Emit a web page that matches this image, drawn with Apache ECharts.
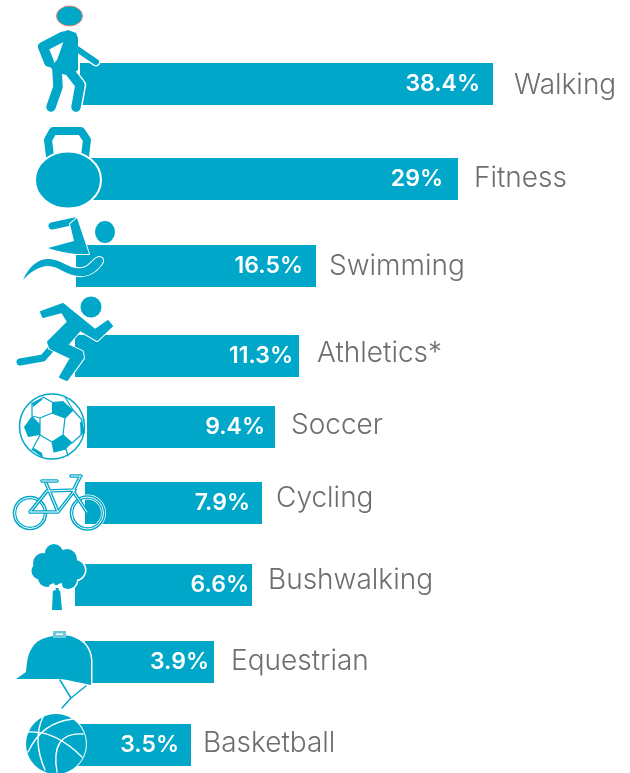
<!DOCTYPE html>
<html>
<head>
<meta charset="utf-8">
<style>html,body{margin:0;padding:0;background:#fff}#main{width:630px;height:773px}</style>
<script src="https://cdn.jsdelivr.net/npm/echarts@6/dist/echarts.min.js"></script>
</head>
<body>
<div id="main"></div>
<script>
// data
var categories = ['Walking', 'Fitness', 'Swimming', 'Athletics*', 'Soccer', 'Cycling', 'Bushwalking', 'Equestrian', 'Basketball'];
var percentages = [38.4, 29, 16.5, 11.3, 9.4, 7.9, 6.6, 3.9, 3.5];

// layout of each row: the bars of the original are not to a common scale
var barLefts  = [80, 90, 76, 75, 87, 85, 75, 85, 75];
var barRights = [493, 458, 316, 299, 275, 262, 252, 214, 191];
var barTops   = [63, 158, 245, 335, 406, 482, 564, 641, 724];
var labelGaps = [21, 16, 13, 18, 16, 14, 16, 17, 12];
var labelLifts = [-2, 0, -1, 2, 1, 4, 4, 0, 1];
var valueInsets = [13, 15, 13, 6, 10, 12, 3, 5, 12];

var BLUE = '#00a7c9';
var GREY = '#6d6e71';
var FONT = 'Inter, sans-serif';

var grids = [], xAxes = [], yAxes = [], series = [];
categories.forEach(function (name, i) {
  var lift = labelLifts[i];
  grids.push({ left: barLefts[i], top: barTops[i], width: barRights[i] - barLefts[i], height: 42 });
  xAxes.push({ type: 'value', gridIndex: i, min: 0, max: percentages[i], show: false });
  yAxes.push({
    type: 'category', gridIndex: i, position: 'right', data: [name],
    axisLine: { show: false }, axisTick: { show: false }, splitLine: { show: false },
    axisLabel: {
      margin: labelGaps[i],
      formatter: '{n|{value}}',
      rich: {
        n: {
          fontFamily: FONT, fontWeight: 300, fontSize: 28, color: GREY,
          padding: [Math.max(0, -lift) * 2, 0, Math.max(0, lift) * 2, 0]
        }
      }
    }
  });
  series.push({
    type: 'bar', xAxisIndex: i, yAxisIndex: i, barWidth: '100%', data: [percentages[i]],
    itemStyle: { color: BLUE }, silent: true,
    label: {
      show: true, position: 'insideRight', distance: valueInsets[i],
      formatter: '{c}%', color: '#fff', fontFamily: FONT, fontWeight: 600, fontSize: 23
    }
  });
});

// icons, each one is a white halo with the teal shape on top
var icons = [];
function el(type, shape, style) {
  icons.push({ type: type, shape: shape, style: style });
}
function ell(cx, cy, rx, ry, style) {
  var d = 'M' + (cx - rx) + ' ' + cy + 'A' + rx + ' ' + ry + ' 0 1 1 ' + (cx + rx) + ' ' + cy +
    'A' + rx + ' ' + ry + ' 0 1 1 ' + (cx - rx) + ' ' + cy + 'Z';
  el('path', { pathData: d }, style);
}
function blob(d, halo) {
  el('path', { pathData: d }, { fill: '#fff', stroke: '#fff', lineWidth: halo || 3, lineJoin: 'round' });
  el('path', { pathData: d }, { fill: BLUE });
}
function limb(d, w) {
  el('path', { pathData: d }, { fill: 'none', stroke: '#fff', lineWidth: w + 3, lineCap: 'round', lineJoin: 'round' });
}
function limbTop(d, w, c) {
  el('path', { pathData: d }, { fill: 'none', stroke: c || BLUE, lineWidth: w, lineCap: 'round', lineJoin: 'round' });
}
function ring(cx, cy, r, w, c) {
  el('circle', { cx: cx, cy: cy, r: r }, { fill: 'none', stroke: c, lineWidth: w });
}

// walker
var walkerArm = 'M63 36.5L43 47L49 62', walkerArm2 = 'M77 49L96 62';
var walkerLegs = 'M57 70L58 87L51 107', walkerLegs2 = 'M70 72L80 85L76 107';
var walkerBody = 'M60 33L68 30L76 33L78 38L78 70L70 76L55 72L50 67L57 60L63 43Z';
limb(walkerArm2, 6); limb(walkerLegs2, 9.5);
limbTop(walkerArm, 10); limbTop(walkerArm2, 6); limbTop(walkerLegs, 9.5); limbTop(walkerLegs2, 9.5);
el('path', { pathData: walkerBody }, { fill: BLUE });
ell(69.5, 16, 13, 10, { fill: BLUE, stroke: '#e8826a', lineWidth: 1 });

// kettlebell
limbTop('M50 156L48 140L53 131L81 131L87 140L85 156', 8);
ell(68, 180, 33, 28.5, { fill: BLUE, stroke: '#fff', lineWidth: 2 });

// swimmer
ell(105, 232, 10, 11, { fill: BLUE });
limbTop('M52 226L75 221', 7);
blob('M77 218L89 254L76 254Q60 252 48 248L74 241L70 224Z', 2);
blob('M23 280C30 263 42 258 50 259C62 260 70 270 82 268C90 267 93 258 99 257C104 257 104 262 101 265C95 273 88 277 78 276C65 275 58 265 47 266C38 267 30 272 23 280Z', 2);

// runner
el('circle', { cx: 91, cy: 307, r: 10.5 }, { fill: BLUE });
limbTop('M20 362L43 358L50 350', 7);
var runner = 'M63 304L95 330L108 321L112 326L97 340L80 330L67 345L82 352L83 358L67 380L60 377L71 358L50 348L48 342L68 322L62 312L43 317L41 312Z';
el('path', { pathData: runner }, { fill: '#fff', stroke: '#fff', lineWidth: 4, lineJoin: 'round' });
el('path', { pathData: runner }, { fill: BLUE, stroke: BLUE, lineWidth: 2, lineJoin: 'round' });

// soccer ball
el('circle', { cx: 52, cy: 426.5, r: 32.5 }, { fill: '#fff', stroke: BLUE, lineWidth: 1.5 });
var ballFill = [
  'M52 402L63 401L73 410L65 418L52 413Z',
  'M32 416L40 424L40 435L28 437L24 427Z',
  'M63 435L72 443L66 449L54 452L52 442Z',
  'M32 403L43 397L42 400L33 407Z',
  'M32 450L43 458L42 453L34 448Z',
  'M82 420L85 433L81 435L80 423Z'
];
ballFill.forEach(function (d) { el('path', { pathData: d }, { fill: BLUE }); });
limbTop('M40 418L52 413L65 418L63 435L52 442L40 435ZM40 418L32 416M65 418L73 410L82 420L81 435L72 443M63 435L72 443M52 442L54 452M40 435L32 450M32 403L32 416M73 410L65 397M43 397L52 402M54 452L66 449L68 456', 1.2);

// bicycle
function wheel(cx, cy, r) {
  ring(cx, cy, r, 5, '#fff');
  ring(cx, cy, r, 3.6, BLUE);
  ring(cx, cy, r, 1, '#fff');
}
wheel(30, 513, 15.5);
wheel(87.5, 513, 16);
var frame = 'M30 512L58 512L75 490L47 491L30 512M46 483L58 512M80 477L73 491L87 512M42 481L57 481M71 476L81 476';
limbTop(frame, 3.6);
limbTop(frame, 1, '#fff');

// tree
var crown = [[54, 553, 9], [67, 559, 10], [43, 563, 10], [40, 571, 8.5], [75, 570, 10], [68, 580, 9], [47, 578, 9], [57, 568, 17]];
crown.forEach(function (c) {
  el('circle', { cx: c[0], cy: c[1], r: c[2] }, { fill: '#fff', stroke: '#fff', lineWidth: 3 });
});
crown.forEach(function (c) {
  el('circle', { cx: c[0], cy: c[1], r: c[2] }, { fill: BLUE });
});
el('path', { pathData: 'M53 588L52 610L62 610L60 588Z' }, { fill: BLUE });
el('path', { pathData: 'M49 585L54 583L56 590L52 591ZM58 584L62 583L63 590L59 591Z' }, { fill: '#fff' });

// helmet
blob('M16 679L26 672C27 660 28 650 37 642C45 636 60 634 70 636C80 639 90 645 91 660L91 685C80 683 70 680 60 679Z', 3);
el('rect', { x: 53, y: 631, width: 13, height: 7 }, { fill: '#6fc8dc' });
el('rect', { x: 56, y: 633.5, width: 7, height: 1.5 }, { fill: '#fff' });
limbTop('M60 680L71 698L62 708M71 698L86 686', 1.5);

// basketball
el('circle', { cx: 56, cy: 744, r: 31 }, { fill: '#fff' });
el('circle', { cx: 56, cy: 744, r: 30 }, { fill: BLUE });
limbTop('M28 732Q55 730 82 757M43 717Q32 740 45 770M28 752Q42 722 73 719M83 734Q50 732 57 772', 1.4, '#fff');

// the graphic component has no path type, a custom series does
series.push({
  type: 'custom', coordinateSystem: 'none', z: 20, silent: true, data: [[0]],
  renderItem: function () {
    return { type: 'group', children: icons };
  }
});

var chart = echarts.init(document.getElementById('main'));
chart.setOption({
  animation: false,
  backgroundColor: '#fff',
  grid: grids,
  xAxis: xAxes,
  yAxis: yAxes,
  series: series
});
</script>
</body>
</html>
